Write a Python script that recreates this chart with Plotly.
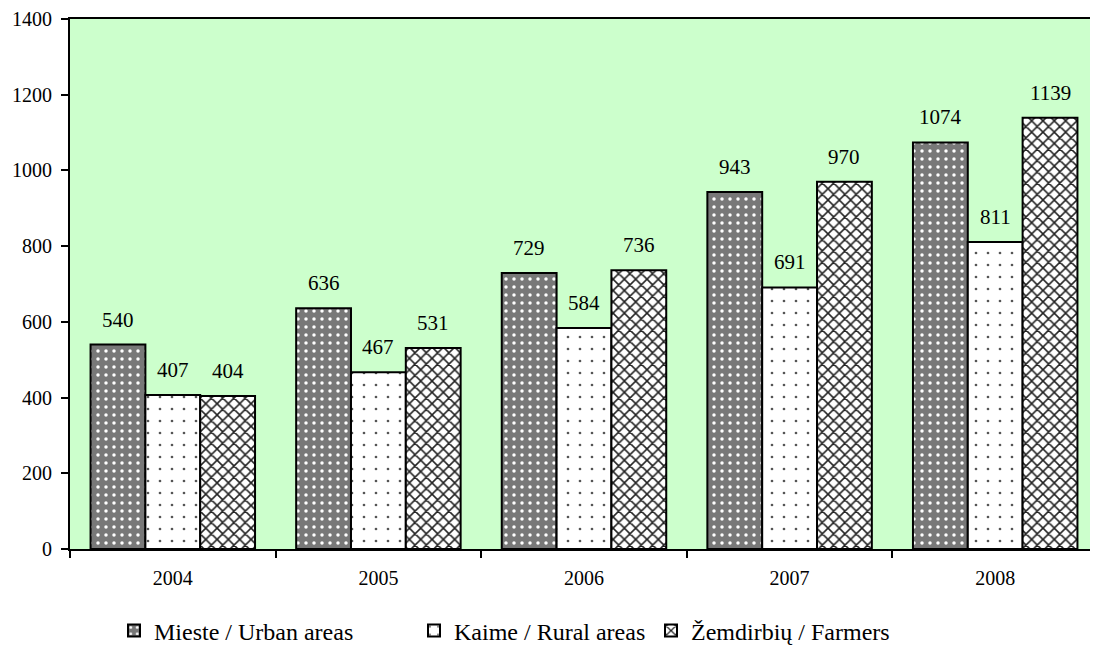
import plotly.graph_objects as go

years = ["2004", "2005", "2006", "2007", "2008"]
urban = [540, 636, 729, 943, 1074]
rural = [407, 467, 584, 691, 811]
farmers = [404, 531, 736, 970, 1139]

names = ["Mieste / Urban areas", "Kaime / Rural areas", "Žemdirbių / Farmers"]

# page body has 8px margin, so figure is a bit smaller than the window
W, H = 1090, 643
ML, MB = 62, 102
bar_px = (W - ML) / 5 * 0.8 / 3

fig = go.Figure()
fig.add_trace(go.Bar(
    x=years, y=urban, name=names[0], legend="legend",
    marker=dict(
        color="#7a7a7a",
        line=dict(color="black", width=2),
        pattern=dict(shape=".", fgcolor="white", bgcolor="#787878",
                     size=8, solidity=0.15, fillmode="replace"),
    ),
))
fig.add_trace(go.Bar(
    x=years, y=rural, name=names[1], legend="legend2",
    marker=dict(
        color="white",
        line=dict(color="black", width=2),
        pattern=dict(shape=".", fgcolor="#555", bgcolor="white",
                     size=12, solidity=0.04, fillmode="replace"),
    ),
))
fig.add_trace(go.Bar(
    x=years, y=farmers, name=names[2], legend="legend3",
    marker=dict(
        color="white",
        line=dict(color="black", width=2),
        pattern=dict(shape="x", fgcolor="#222", bgcolor="white",
                     size=8, solidity=0.35, fillmode="replace"),
    ),
))

# value labels above bars (category index used as x)
for i, vals in enumerate([urban, rural, farmers]):
    for j, v in enumerate(vals):
        fig.add_annotation(
            x=j, y=v, text=str(v), showarrow=False,
            xanchor="center", yanchor="bottom",
            xshift=(i - 1) * bar_px, yshift=11,
            font=dict(size=21, color="black"),
        )

leg = dict(orientation="h", yref="container", yanchor="middle", y=1 - (631 - 8) / H,
           xref="container", xanchor="left",
           font=dict(size=24), itemwidth=30, bgcolor="rgba(0,0,0,0)")

fig.update_layout(
    width=W, height=H,
    showlegend=True,
    font=dict(family="Liberation Serif", size=20, color="black"),
    paper_bgcolor="white",
    plot_bgcolor="#ccffcc",
    barmode="group",
    bargap=0.2,
    bargroupgap=0,
    margin=dict(l=ML, r=0, t=11, b=MB, autoexpand=False),
    xaxis=dict(
        type="category", range=[-0.5, 4.5],
        showline=True, linecolor="black", linewidth=2, mirror=True,
        ticks="outside", tickson="boundaries", ticklen=7, tickwidth=2, tickcolor="black",
        tickfont=dict(size=20), tickangle=0, ticklabelstandoff=10,
    ),
    yaxis=dict(
        range=[0, 1400], dtick=200,
        showgrid=False, zeroline=False,
        showline=True, linecolor="black", linewidth=2,
        ticks="outside", ticklen=7, tickwidth=2, tickcolor="black",
        tickfont=dict(size=20), ticklabelstandoff=5,
    ),
    legend=dict(leg, x=(126 - 20) / W),
    legend2=dict(leg, x=(426 - 20) / W),
    legend3=dict(leg, x=(663 - 20) / W),
)

fig.write_html("out.html")
